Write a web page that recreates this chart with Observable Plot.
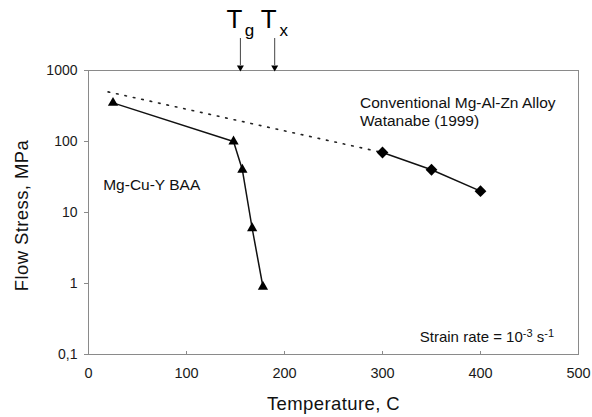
<!DOCTYPE html>
<html><head><meta charset="utf-8">
<script src="https://cdn.jsdelivr.net/npm/d3@7"></script>
<script src="https://cdn.jsdelivr.net/npm/@observablehq/plot@0.6"></script>
<style>body{margin:0;background:#fff} #chart svg{font-family:"Liberation Sans",Arial,sans-serif;background:#fff}</style>
</head><body><div id="chart"></div>
<script>
// Mg-Cu-Y bulk amorphous alloy
const baaTemp = [25, 148, 157, 167, 178];
const baaStress = [350, 100, 40, 6, 0.9];
// Conventional Mg-Al-Zn alloy (Watanabe 1999)
const alloyTemp = [300, 350, 400];
const alloyStress = [70, 40, 20];
// dotted extrapolation
const extrapTemp = [20, 300];
const extrapStress = [500, 70];
// glass transition / crystallization temperatures
const transitionTemp = [155, 190];
const transitionSub = ["g", "x"];
// ticks
const xTicks = [0, 100, 200, 300, 400, 500];
const yTicks = [0.1, 1, 10, 100, 1000];
const yTickLabels = ["0,1", "1", "10", "100", "1000"];
const strainNote = "Strain rate = 10⁻³ s⁻¹";

const baa = baaTemp.map((t, i) => ({t, s: baaStress[i]}));
const alloy = alloyTemp.map((t, i) => ({t, s: alloyStress[i]}));
const extrap = extrapTemp.map((t, i) => ({t, s: extrapStress[i]}));

const axisGray = "#8a8a8a";
const textCol = "#1a1a1a";

const chart = Plot.plot({
  width: 592, height: 417,
  marginLeft: 88, marginRight: 14, marginTop: 70, marginBottom: 63,
  style: {fontFamily: "'Liberation Sans', Arial, sans-serif", color: textCol, overflow: "visible"},
  x: {domain: [0, 500]},
  y: {type: "log", domain: [0.1, 1000]},
  marks: [
    Plot.frame({stroke: axisGray}),
    Plot.axisY({ticks: yTicks, tickFormat: d => yTickLabels[yTicks.indexOf(d)], tickSize: 4, tickPadding: 7,
      stroke: axisGray, fontSize: 14, label: null}),
    Plot.axisX({ticks: xTicks, tickSize: -3, tickFormat: () => "", stroke: axisGray, label: null}),
    Plot.axisX({ticks: xTicks, tickSize: 0, tickPadding: 13, fontSize: 14.5, label: null}),
    Plot.text(["Flow Stress, MPa"], {frameAnchor: "left", textAnchor: "middle", lineAnchor: "middle", rotate: -90, dx: -66, dy: 3, fontSize: 18.5, fill: "#111"}),
    Plot.text(["Temperature, C"], {frameAnchor: "bottom", textAnchor: "middle", lineAnchor: "middle", dy: 50, fontSize: 18.5, fill: "#111"}),
    Plot.line(extrap, {x: "t", y: "s", stroke: "#222", strokeWidth: 1.6, strokeDasharray: "1.6,7", strokeLinecap: "round"}),
    Plot.line(baa, {x: "t", y: "s", stroke: "#111", strokeWidth: 1.5}),
    Plot.line(alloy, {x: "t", y: "s", stroke: "#111", strokeWidth: 1.5}),
    Plot.dot(baa, {x: "t", y: "s", symbol: "triangle", r: 3.8, fill: "#000", stroke: "none"}),
    Plot.dot(alloy, {x: "t", y: "s", symbol: "diamond2", r: 5.3, fill: "#000", stroke: "none"}),
    // Tg / Tx arrows
    Plot.ruleX(transitionTemp, {insetTop: -32, insetBottom: 289, stroke: "#444", strokeWidth: 1}),
    Plot.dot(transitionTemp, {x: d => d, frameAnchor: "top", dy: -3, symbol: "triangle", rotate: 180, r: 2.6, fill: "#000", stroke: "none"}),
    Plot.text(transitionTemp, {x: d => d, frameAnchor: "top", lineAnchor: "middle", text: () => "T", dx: -6, dy: -51, fontSize: 26, fill: "#000"}),
    Plot.text(transitionTemp, {x: d => d, frameAnchor: "top", lineAnchor: "middle", text: (d, i) => transitionSub[i], dx: 9, dy: -39.5, fontSize: 17, fill: "#000"}),
    // annotations
    Plot.text(["Mg-Cu-Y BAA"], {x: 15, y: 24, textAnchor: "start", fontSize: 15.5, fill: "#111"}),
    Plot.text(["Conventional Mg-Al-Zn Alloy\nWatanabe (1999)"], {x: 277, y: 265, textAnchor: "start", fontSize: 15.5, lineHeight: 1.16, fill: "#111"}),
    Plot.text([strainNote], {x: 475, y: 0.174, textAnchor: "end", fontSize: 15, fill: "#111"})
  ]
});
// real superscripts in the strain-rate note
const st = d3.select(chart).selectAll("text").filter(function () { return this.textContent === strainNote; });
st.text(null);
st.append("tspan").text("Strain rate = 10");
st.append("tspan").attr("dy", "-5").attr("font-size", "11").text("-3");
st.append("tspan").attr("dy", "5").text(" s");
st.append("tspan").attr("dy", "-5").attr("font-size", "11").text("-1");
d3.select(chart).selectAll("text")
  .filter(function () { return this.textContent === "Flow Stress, MPa" || this.textContent === "Temperature, C"; })
  .style("letter-spacing", "0.4px");
document.getElementById("chart").appendChild(chart);
</script>
</body></html>
